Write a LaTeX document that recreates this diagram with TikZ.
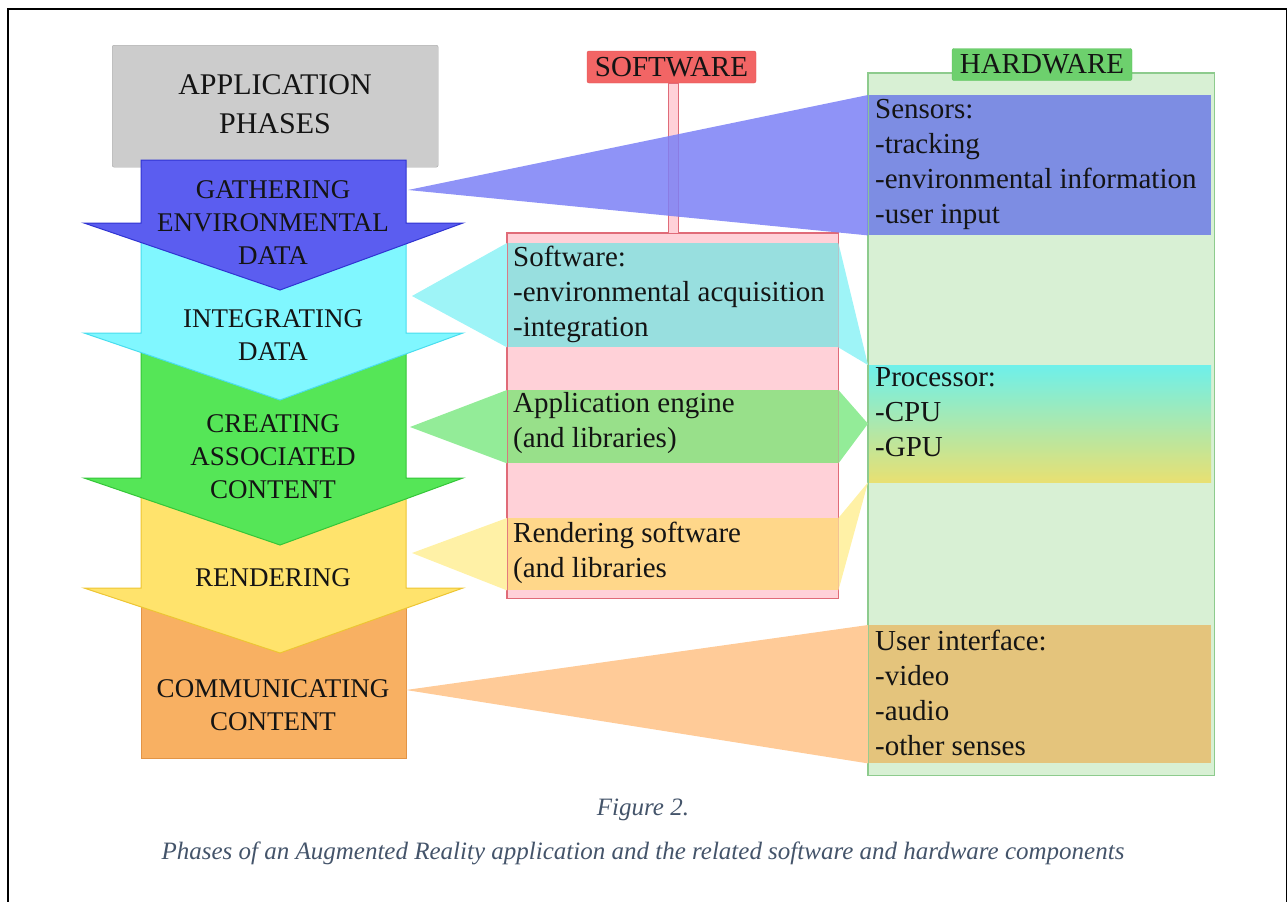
\documentclass[tikz,border=0pt]{standalone}
\usepackage{fontspec}
\setmainfont{Liberation Serif}

\definecolor{ink}{HTML}{141414}
\definecolor{greyfill}{HTML}{CCCCCC}
\definecolor{greyline}{HTML}{A8A8A8}
\definecolor{bluefill}{HTML}{5B5DF0}
\definecolor{blueline}{HTML}{3034D2}
\definecolor{cyanfill}{HTML}{80F7FF}
\definecolor{cyanline}{HTML}{48DDEE}
\definecolor{greenfill}{HTML}{55E657}
\definecolor{greenline}{HTML}{34C638}
\definecolor{yellowfill}{HTML}{FFE36C}
\definecolor{yellowline}{HTML}{EDC532}
\definecolor{orangefill}{HTML}{F8B062}
\definecolor{orangeline}{HTML}{E29446}
\definecolor{swfill}{HTML}{FFD1D8}
\definecolor{swline}{HTML}{E06B78}
\definecolor{swhead}{HTML}{F26565}
\definecolor{swheadline}{HTML}{E05454}
\definecolor{swcyan}{HTML}{98DFDF}
\definecolor{swgreen}{HTML}{98E08A}
\definecolor{sworange}{HTML}{FFD78A}
\definecolor{hwfill}{HTML}{D8F0D4}
\definecolor{hwline}{HTML}{8DCB8D}
\definecolor{hwhead}{HTML}{6DD06D}
\definecolor{hwheadline}{HTML}{5DBF5D}
\definecolor{sensfill}{HTML}{7D8DE3}
\definecolor{uifill}{HTML}{E4C47C}
\definecolor{proctop}{HTML}{6EF0EA}
\definecolor{procmid}{HTML}{7EE87C}
\definecolor{procbot}{HTML}{E8E072}
\definecolor{linkblue}{HTML}{7B80F6}
\definecolor{linkcyan}{HTML}{9EF4F7}
\definecolor{linkgreen}{HTML}{93EC98}
\definecolor{linkyellow}{HTML}{FFF1A6}
\definecolor{linkorange}{HTML}{FFCB98}
\definecolor{capblue}{HTML}{44546A}

% down-pointing phase arrow: #1 style, #2 body top, #3 wing line, #4 tip
\newcommand{\phasearrow}[4]{%
  \filldraw[line width=1,#1] (141,#2) -- (406,#2) -- (406,#3) -- (463,#3)
    -- (280,#4) -- (84,#3) -- (141,#3) -- cycle;}

\begin{document}
\begin{tikzpicture}[x=1pt,y=-1pt,
  phase/.style={font=\fontsize{27}{33}\selectfont, align=center, text=ink},
  band/.style={draw=none, anchor=north west, inner sep=0, minimum width=#1},
  swband/.style={band=331},
  hwband/.style={band=343},
  bandtext/.style={font=\fontsize{29}{35}\selectfont, align=left, anchor=north west,
    inner sep=0, text=ink},
  headbox/.style={rounded corners=2, inner sep=0, minimum height=32,
    font=\fontsize{29}{35}\selectfont, text=ink},
  caption/.style={font=\fontsize{25}{30}\selectfont\itshape, text=capblue, anchor=base},
  link/.style={draw=none}]

\useasboundingbox (0,0) rectangle (1288,902);

% page frame
\draw[line width=1.5] (8,902) -- (8,9) -- (1286.5,9) -- (1286.5,902);

% ---- application phases column ----
\node[draw=greyline, fill=greyfill, rounded corners=2, anchor=north west, inner sep=0,
      minimum width=326, minimum height=122] (appbox) at (112,45) {};
\filldraw[line width=1, fill=orangefill, draw=orangeline] (141,600) rectangle (406,758);
\phasearrow{fill=yellowfill, draw=yellowline}{492}{588}{653}
\phasearrow{fill=greenfill, draw=greenline}{348}{478}{545}
\phasearrow{fill=cyanfill, draw=cyanline}{235}{333}{400}
\phasearrow{fill=bluefill, draw=blueline}{160}{223}{290}

\node[font=\fontsize{30}{39}\selectfont, align=center, text=ink] (apptext) at (275,104.5)
  {APPLICATION\\PHASES};
\node[phase] (gather) at (273,222.5) {GATHERING\\ENVIRONMENTAL\\DATA};
\node[phase] (integ) at (273,335) {INTEGRATING\\DATA};
\node[phase] (create) at (273,456.5) {CREATING\\ASSOCIATED\\CONTENT};
\node[phase] (render) at (273,578) {RENDERING};
\node[phase] (comm) at (273,705) {COMMUNICATING\\CONTENT};

\coordinate (gather-out) at (408,190);
\coordinate (integ-out) at (412,296);
\coordinate (create-out) at (410,427);
\coordinate (render-out) at (412,553);
\coordinate (comm-out) at (406,690);

% ---- software column ----
\node[fill=swfill, anchor=north west, inner sep=0, minimum width=331, minimum height=365]
  (swbox) at (507,233) {};
\node[swband, fill=swcyan, minimum height=104] (swacq) at (507,243) {};
\node[swband, fill=swgreen, minimum height=73] (sweng) at (507,390) {};
\node[swband, fill=sworange, minimum height=72] (swrend) at (507,518) {};
\draw[swline, line width=1.2] (swbox.north west) rectangle (swbox.south east);
\node[headbox, draw=swheadline, fill=swhead, minimum width=169] (swtitle) at (671.5,67) {SOFTWARE};
\filldraw[fill=swfill, draw=swline, line width=1]
  ([xshift=-3.5]swtitle.south) rectangle ([xshift=5.5]swbox.north);

\node[bandtext] (acqtext) at ([xshift=6,yshift=1]swacq.north west)
  {\strut Software:\\-environmental acquisition\\-integration};
\node[bandtext] (engtext) at ([xshift=6,yshift=2]sweng.north west)
  {\strut Application engine\\(and libraries)};
\node[bandtext] (rendtext) at ([xshift=6,yshift=0]swrend.north west)
  {\strut Rendering software\\(and libraries};

% ---- hardware column ----
\node[fill=hwfill, anchor=north west, inner sep=0, minimum width=346, minimum height=702]
  (hwbox) at (868,73) {};
\node[hwband, fill=sensfill, minimum height=140] (sens) at (868,95) {};
\node[hwband, minimum height=117, top color=proctop, middle color=procmid,
      bottom color=procbot] (proc) at (868,365) {};
\node[hwband, fill=uifill, minimum height=138] (ui) at (868,625) {};
\draw[hwline, line width=1.2] (hwbox.north west) rectangle (hwbox.south east);
\node[headbox, draw=hwheadline, fill=hwhead, minimum width=180] (hwtitle) at (1042,64.5) {HARDWARE};

\node[bandtext] (senstext) at ([xshift=7,yshift=1]sens.north west)
  {\strut Sensors:\\-tracking\\-environmental information\\-user input};
\node[bandtext] (proctext) at ([xshift=7,yshift=3]proc.north west)
  {\strut Processor:\\-CPU\\-GPU};
\node[bandtext] (uitext) at ([xshift=7,yshift=-1]ui.north west)
  {\strut User interface:\\-video\\-audio\\-other senses};

% ---- links between phases and components ----
\fill[linkcyan] (integ-out) -- (swacq.north west) -- (swacq.south west) -- cycle;
\fill[linkcyan] (swacq.north east) -- (proc.north west) -- (swacq.south east) -- cycle;
\fill[linkgreen] (create-out) -- (sweng.north west) -- (sweng.south west) -- cycle;
\fill[linkgreen] (sweng.north east) -- (proc.west) -- (sweng.south east) -- cycle;
\fill[linkyellow] (render-out) -- (swrend.north west) -- (swrend.south west) -- cycle;
\fill[linkyellow] (swrend.north east) -- (proc.south west) -- (swrend.south east) -- cycle;
\fill[linkorange] (comm-out) -- (ui.north west) -- (ui.south west) -- cycle;
\fill[linkblue, fill opacity=0.85] (gather-out) -- (sens.north west) -- (sens.south west) -- cycle;

% ---- caption ----
\node[caption] (fignum) at (643,815) {Figure 2.};
\node[caption] (figcap) at (643,859)
  {Phases of an Augmented Reality application and the related software and hardware components};

\end{tikzpicture}
\end{document}
